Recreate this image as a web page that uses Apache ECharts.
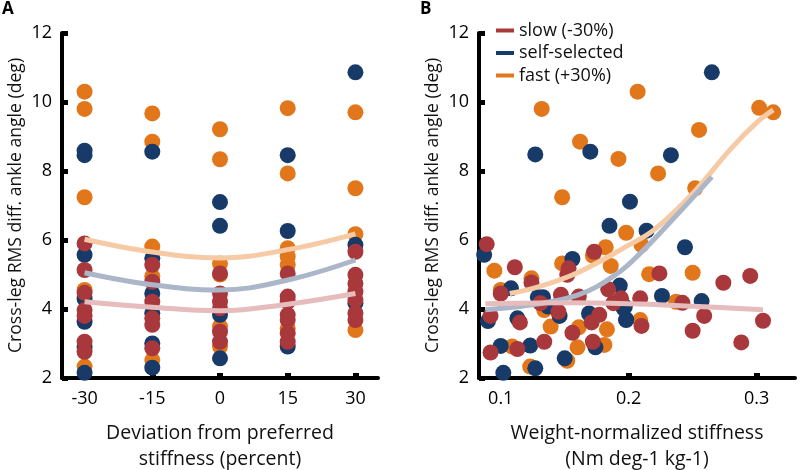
<!DOCTYPE html>
<html>
<head>
<meta charset="utf-8">
<script src="https://cdn.jsdelivr.net/npm/echarts@6/dist/echarts.min.js"></script>
<style>html,body{margin:0;padding:0;background:#fff}#c{width:800px;height:470px}</style>
</head>
<body>
<div id="c"></div>
<script>
// ---------- data ----------
const speedNames = ['slow (-30%)', 'self-selected', 'fast (+30%)'];
const stiffnessPct = [-30, -15, 0, 15, 30];
const yTicks = [2, 4, 6, 8, 10, 12];
const leftXTicks = [-30, -15, 0, 15, 30];
const rightXTicks = [0.1, 0.2, 0.3];

// Panel A: values per stiffness column (same order as stiffnessPct)
const leftFast = [
  [10.3, 9.8, 7.24, 4.55, 2.33],
  [9.67, 8.85, 5.81, 4.95, 2.52],
  [9.21, 8.34, 5.32, 5.0, 3.49, 2.91],
  [9.82, 7.93, 5.76, 5.52, 5.28, 3.44],
  [9.7, 7.5, 6.17, 3.39]
];
const leftSelf = [
  [8.59, 8.46, 5.57, 4.3, 3.63, 2.9, 2.15],
  [8.56, 5.47, 4.45, 3.88, 3.0, 2.3],
  [7.1, 6.41, 3.83, 2.57],
  [8.46, 6.26, 2.91],
  [10.86, 5.86, 4.17]
];
const leftSlow = [
  [5.9, 5.13, 4.47, 3.97, 3.8, 3.05, 2.76],
  [5.28, 4.79, 4.21, 3.73, 3.54, 2.86],
  [5.03, 4.45, 4.21, 4.02, 3.34, 3.05],
  [5.03, 4.36, 4.21, 3.83, 3.68, 3.3, 3.05],
  [5.66, 4.99, 4.74, 4.5, 4.26, 3.88, 3.68]
];
// Panel A fit curves (read at each stiffness column)
const leftFitFast = [6.02, 5.65, 5.48, 5.72, 6.18];
const leftFitSelf = [5.05, 4.7, 4.55, 4.84, 5.42];
const leftFitSlow = [4.21, 4.05, 3.95, 4.14, 4.45];

// Panel B: [stiffness, angle]
const rightFast = [
  [0.132, 9.80], [0.148, 7.24], [0.162, 8.85], [0.192, 8.35], [0.207, 10.30], [0.198, 6.21],
  [0.223, 7.93], [0.252, 7.50], [0.255, 9.19], [0.302, 9.83], [0.313, 9.70], [0.182, 5.79],
  [0.172, 5.55], [0.186, 5.25], [0.148, 5.32], [0.095, 5.11], [0.124, 4.89], [0.100, 4.55],
  [0.134, 3.97], [0.139, 3.49], [0.183, 3.41], [0.161, 3.47], [0.181, 2.96], [0.160, 2.89],
  [0.109, 2.91], [0.123, 2.33], [0.152, 2.50], [0.210, 5.86], [0.216, 5.01], [0.250, 5.05],
  [0.237, 4.21], [0.209, 3.68]
];
const rightSelf = [
  [0.127, 8.48], [0.170, 8.56], [0.201, 7.11], [0.185, 6.41], [0.214, 6.27], [0.233, 8.46],
  [0.265, 10.86], [0.087, 5.57], [0.156, 5.45], [0.108, 4.60], [0.193, 4.68], [0.129, 4.34],
  [0.133, 4.34], [0.137, 4.07], [0.146, 3.80], [0.169, 3.87], [0.197, 4.07], [0.198, 3.70],
  [0.090, 3.65], [0.113, 3.73], [0.174, 2.89], [0.100, 2.93], [0.123, 2.94], [0.127, 2.28],
  [0.150, 2.57], [0.102, 2.15], [0.244, 5.79], [0.226, 4.38], [0.257, 4.23], [0.196, 4.02],
  [0.198, 3.68]
];
const rightSlow = [
  [0.089, 5.88], [0.173, 5.66], [0.153, 5.18], [0.152, 4.99], [0.111, 5.21], [0.124, 4.77],
  [0.100, 4.45], [0.184, 4.57], [0.131, 4.17], [0.147, 4.41], [0.161, 4.36], [0.194, 4.31],
  [0.188, 4.17], [0.145, 3.92], [0.177, 3.83], [0.092, 3.80], [0.115, 3.61], [0.171, 3.61],
  [0.156, 3.31], [0.134, 3.05], [0.172, 3.05], [0.113, 2.84], [0.092, 2.74], [0.224, 5.03],
  [0.274, 4.76], [0.295, 4.96], [0.209, 4.31], [0.242, 4.18], [0.210, 3.51], [0.259, 3.80],
  [0.305, 3.66], [0.250, 3.37], [0.288, 3.03]
];
// Panel B fit curves
const rightFitFast = [[0.107, 4.45], [0.13, 4.65], [0.16, 5.05], [0.2, 5.85], [0.22, 6.3], [0.25, 7.35], [0.28, 8.65], [0.3, 9.4], [0.313, 9.77]];
const rightFitSelf = [[0.088, 3.98], [0.12, 4.1], [0.16, 4.4], [0.19, 5.0], [0.21, 5.65], [0.232, 6.5], [0.265, 7.83]];
const rightFitSlow = [[0.088, 4.15], [0.15, 4.18], [0.2, 4.15], [0.25, 4.08], [0.305, 3.98]];

// ---------- styles ----------
const FONT = 'Open Sans';
const colors = { slow: '#a8383b', self: '#173a68', fast: '#e2761a' };
const fitColors = { slow: '#e6bcbd', self: '#abb7c9', fast: '#f7caa6' };

function columns(arr) {
  const out = [];
  arr.forEach((vals, i) => vals.forEach(v => out.push([stiffnessPct[i], v])));
  return out;
}
function pair(xs, ys) { return xs.map((x, i) => [x, ys[i]]); }

const axisLineStyle = { show: true, onZero: false, lineStyle: { color: '#000', width: 4 } };
const labelStyle = { color: '#000', fontFamily: FONT, fontSize: 18 };
const nameStyle = { color: '#111', fontFamily: FONT, fontSize: 17.6 };

function yAxis(gi) {
  return {
    type: 'value', gridIndex: gi, min: 2, max: 12, interval: 2,
    axisLine: axisLineStyle,
    axisTick: { show: true, inside: true, length: 6, lineStyle: { color: '#000', width: 5 } },
    axisLabel: Object.assign({ margin: 10 }, labelStyle),
    splitLine: { show: false },
    name: 'Cross-leg RMS diff. ankle angle (deg)',
    nameLocation: 'middle', nameGap: 37,
    nameTextStyle: nameStyle
  };
}

function scatter(name, color, xi, data) {
  return {
    type: 'scatter', name, xAxisIndex: xi, yAxisIndex: xi, data,
    symbolSize: 16, itemStyle: { color, opacity: 1 }, z: 2, silent: true
  };
}
function fit(color, xi, data) {
  return {
    type: 'line', xAxisIndex: xi, yAxisIndex: xi, data, smooth: 0.4,
    showSymbol: false, symbol: 'none', lineStyle: { color, width: 5 }, z: 3, silent: true
  };
}

const xNameStyle = Object.assign({}, nameStyle, { fontSize: 19.5, lineHeight: 26 });

const chart = echarts.init(document.getElementById('c'), null, { renderer: 'canvas' });
chart.setOption({
  animation: false,
  backgroundColor: '#fff',
  grid: [
    { left: 62, top: 33, width: 316, height: 345, outerBoundsMode: 'none', containLabel: false },
    { left: 479, top: 33, width: 316, height: 345, outerBoundsMode: 'none', containLabel: false }
  ],
  xAxis: [
    {
      type: 'value', gridIndex: 0, min: -35, max: 35,
      axisLine: axisLineStyle,
      axisTick: { show: true, inside: true, length: 5, customValues: leftXTicks, lineStyle: { color: '#000', width: 6 } },
      axisLabel: Object.assign({ margin: 12, customValues: leftXTicks }, labelStyle),
      splitLine: { show: false },
      name: 'Deviation from preferred\nstiffness (percent)',
      nameLocation: 'middle', nameGap: 42,
      nameTextStyle: xNameStyle
    },
    {
      type: 'value', gridIndex: 1, min: 0.083, max: 0.33,
      axisLine: axisLineStyle,
      axisTick: { show: true, inside: true, length: 5, customValues: rightXTicks, lineStyle: { color: '#000', width: 6 } },
      axisLabel: Object.assign({ margin: 12, customValues: rightXTicks, formatter: v => v.toFixed(1) }, labelStyle),
      splitLine: { show: false },
      name: 'Weight-normalized stiffness\n(Nm deg-1 kg-1)',
      nameLocation: 'middle', nameGap: 42,
      nameTextStyle: xNameStyle
    }
  ],
  yAxis: [yAxis(0), yAxis(1)],
  legend: {
    left: 496, top: 20.5, padding: 0, orient: 'vertical', selectedMode: false,
    itemWidth: 18, itemHeight: 4, itemGap: 2.5,
    textStyle: { color: '#111', fontFamily: FONT, fontSize: 18, lineHeight: 20 },
    data: [
      { name: speedNames[0], icon: 'rect' },
      { name: speedNames[1], icon: 'rect' },
      { name: speedNames[2], icon: 'rect' }
    ]
  },
  graphic: [
    { type: 'text', left: 2, top: 1, style: { text: 'A', font: 'bold 17px "Open Sans"', fill: '#000' } },
    { type: 'text', left: 420, top: 1, style: { text: 'B', font: 'bold 17px "Open Sans"', fill: '#000' } }
  ],
  series: [
    scatter(speedNames[2], colors.fast, 0, columns(leftFast)),
    scatter(speedNames[1], colors.self, 0, columns(leftSelf)),
    scatter(speedNames[0], colors.slow, 0, columns(leftSlow)),
    fit(fitColors.fast, 0, pair(stiffnessPct, leftFitFast)),
    fit(fitColors.self, 0, pair(stiffnessPct, leftFitSelf)),
    fit(fitColors.slow, 0, pair(stiffnessPct, leftFitSlow)),
    scatter(speedNames[2], colors.fast, 1, rightFast),
    scatter(speedNames[1], colors.self, 1, rightSelf),
    scatter(speedNames[0], colors.slow, 1, rightSlow),
    fit(fitColors.fast, 1, rightFitFast),
    fit(fitColors.self, 1, rightFitSelf),
    fit(fitColors.slow, 1, rightFitSlow)
  ]
});
</script>
</body>
</html>
